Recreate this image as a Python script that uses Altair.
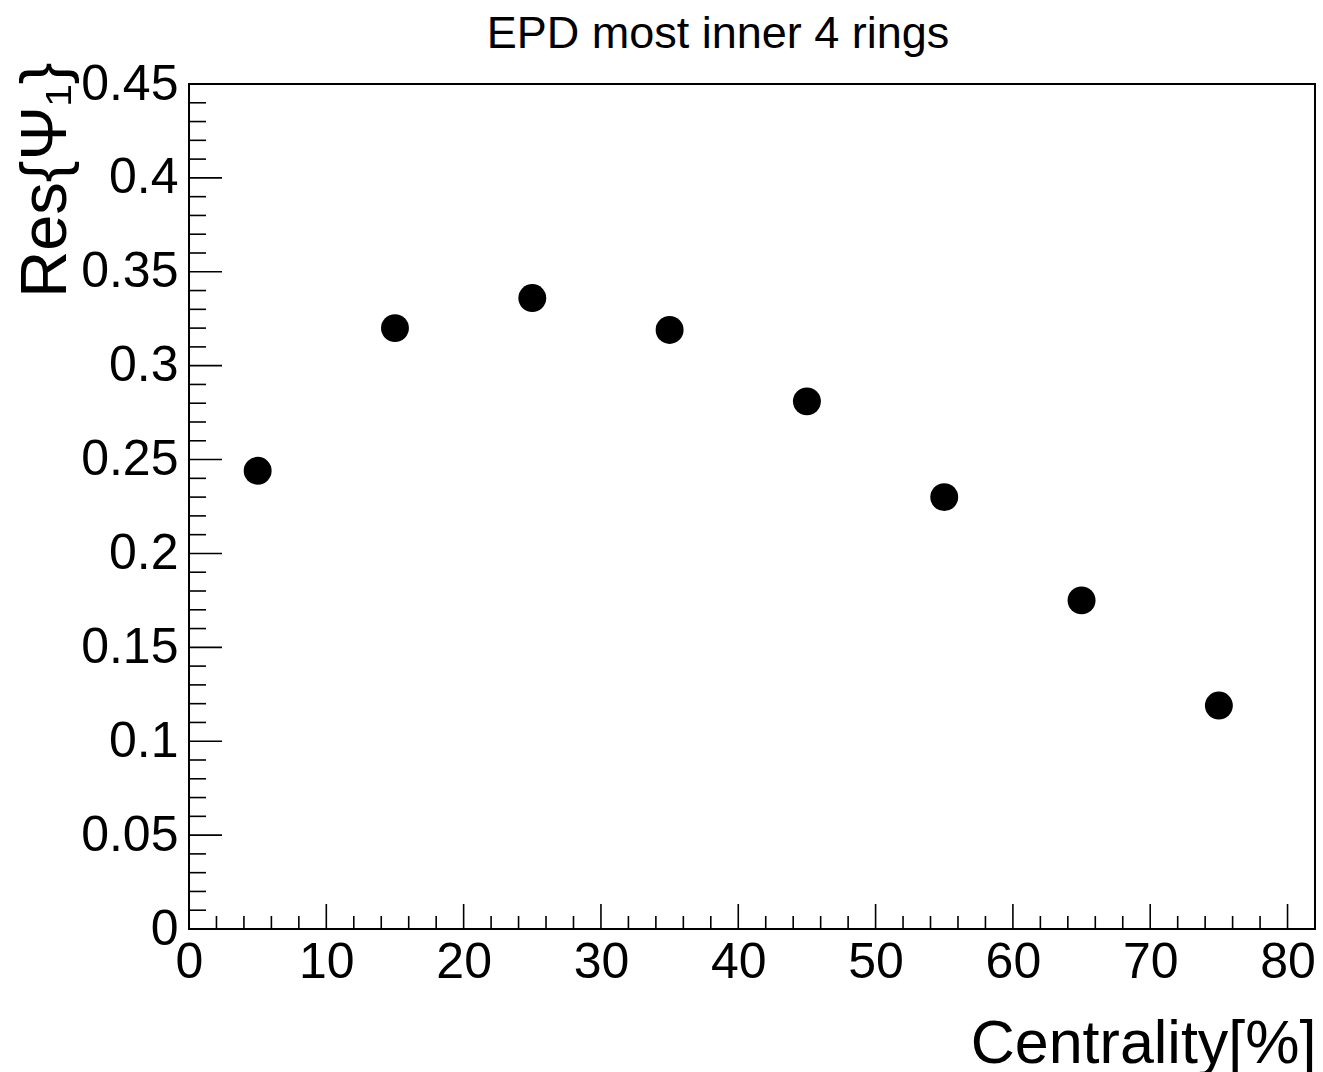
import altair as alt
import pandas as pd

# Data
centrality = [5, 15, 25, 35, 45, 55, 65, 75]
resolution = [0.244, 0.320, 0.336, 0.319, 0.281, 0.230, 0.175, 0.119]

# Tick positions / labels
x_major = [0, 10, 20, 30, 40, 50, 60, 70, 80]
x_minor = [v for v in range(2, 81, 2) if v % 10 != 0]
y_major = [0, 0.05, 0.1, 0.15, 0.2, 0.25, 0.3, 0.35, 0.4, 0.45]
y_minor = [round(i / 100, 2) for i in range(1, 46) if i % 5 != 0]

W, H = 1126, 845
FONT = "Liberation Sans"

points = pd.DataFrame({"x": centrality, "y": resolution})
xmaj = pd.DataFrame({"x": x_major})
xmin = pd.DataFrame({"x": x_minor})
ymaj = pd.DataFrame({"y": y_major})
ymin = pd.DataFrame({"y": y_minor})

x_scale = alt.Scale(domain=[0, 82], nice=False, zero=False)
y_scale = alt.Scale(domain=[0, 0.45], nice=False, zero=False)

x_axis = alt.Axis(
    values=x_major, format="d", labelPadding=48, labelBaseline="alphabetic",
    labelFlush=False, labelOverlap=False, labelBound=False,
    title="Centrality[%]", titleFontSize=61, titleAlign="right",
    titleBaseline="alphabetic", titleX=W + 1, titleY=133,
)
y_axis = alt.Axis(
    values=y_major, format="~g", labelPadding=11, labelBaseline="middle",
    labelFlush=False, labelOverlap=False, labelBound=False,
    title="Res{Ψ₁}", titleFontSize=65, titleAngle=270, titleAlign="right",
    titleBaseline="alphabetic", titleX=-124, titleY=-22,
)

X = alt.X("x:Q", scale=x_scale, axis=x_axis)
Y = alt.Y("y:Q", scale=y_scale, axis=y_axis)

pts = alt.Chart(points).mark_circle(size=780, color="black", opacity=1).encode(x=X, y=Y)

xmaj_r = alt.Chart(xmaj).mark_rule(color="black", strokeWidth=1.6).encode(
    x=X, y=alt.value(H), y2=alt.value(H - 25))
xmin_r = alt.Chart(xmin).mark_rule(color="black", strokeWidth=1.6).encode(
    x=X, y=alt.value(H), y2=alt.value(H - 13))
ymaj_r = alt.Chart(ymaj).mark_rule(color="black", strokeWidth=1.6).encode(
    y=Y, x=alt.value(0), x2=alt.value(33))
ymin_r = alt.Chart(ymin).mark_rule(color="black", strokeWidth=1.6).encode(
    y=Y, x=alt.value(0), x2=alt.value(17))

chart = alt.layer(pts, xmaj_r, xmin_r, ymaj_r, ymin_r).properties(
    width=W, height=H,
    autosize=alt.AutoSizeParams(type="none"),
    padding={"left": 189, "top": 84, "right": 8, "bottom": 143},
    background="white",
    title=alt.Title("EPD most inner 4 rings", font=FONT, fontSize=45,
                    fontWeight="normal", color="black", anchor="middle",
                    dx=-34, dy=44, baseline="alphabetic", offset=10),
).configure_view(
    stroke="black", strokeWidth=2
).configure_axis(
    domain=False, grid=False, ticks=False, tickSize=0,
    labelFont=FONT, labelFontSize=50, labelColor="black",
    titleFont=FONT, titleFontWeight="normal", titleColor="black",
)

chart.save("out.html", embed_options={"renderer": "svg", "actions": False})
